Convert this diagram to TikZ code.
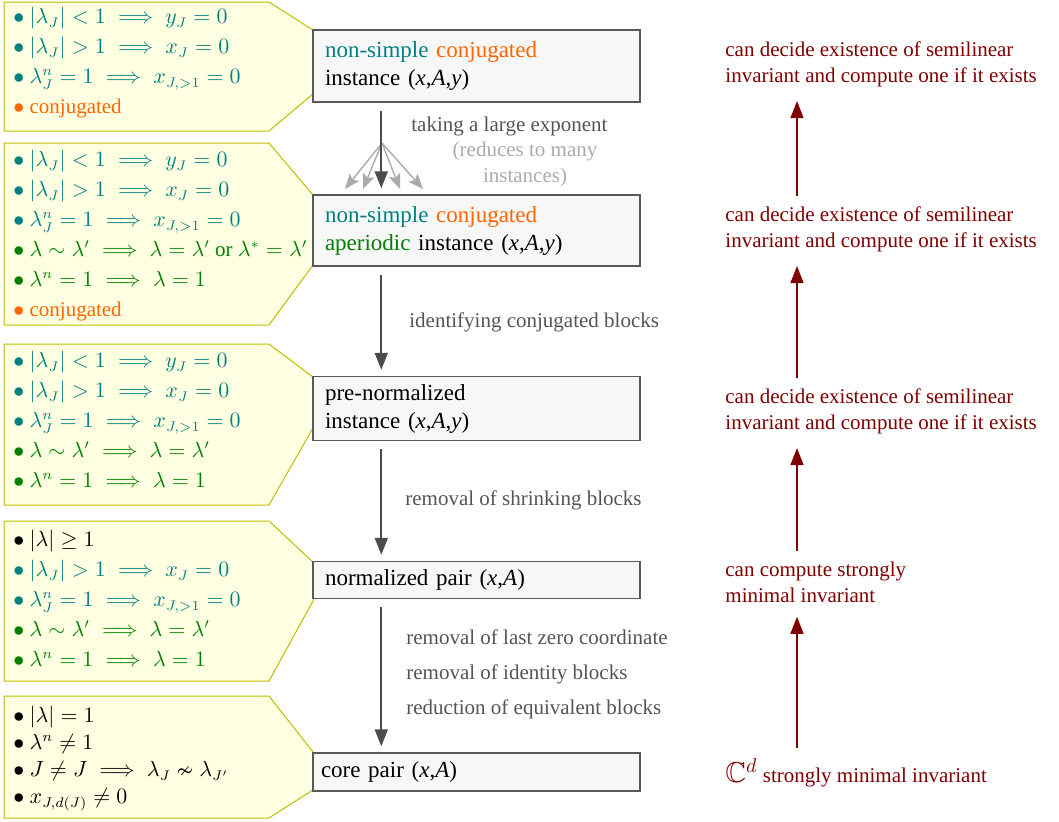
\documentclass[tikz,border=0pt]{standalone}
\usepackage{amssymb, amsmath}
\usepackage[no-math]{fontspec}
\setmainfont{Liberation Serif}
\usetikzlibrary{arrows.meta}
\definecolor{tealc}{RGB}{0, 128, 128}
\definecolor{orng}{RGB}{255, 102, 0}
\definecolor{grn}{RGB}{0, 128, 0}
\definecolor{maroon}{RGB}{128, 0, 0}
\definecolor{callfill}{RGB}{255, 255, 226}
\definecolor{calledge}{RGB}{190, 190, 0}
\definecolor{boxfill}{gray}{0.97}
\definecolor{boxedge}{gray}{0.35}
\definecolor{flowgray}{gray}{0.3}
\definecolor{fangray}{gray}{0.67}
\definecolor{labelgray}{gray}{0.33}

\newcommand{\cond}[2]{{\color{#1}$\bullet$\ #2}}
\newcommand{\inst}{(\textit{x},\textit{A},\textit{y})}
\newcommand{\pair}{(\textit{x},\textit{A})}

\tikzset{
  stage/.style={draw=boxedge, fill=boxfill, line width=0.7pt, minimum width=163.5pt,
                text width=151.5pt, inner xsep=6pt, align=left,
                font=\fontsize{11.5}{14}\selectfont},
  callout/.style={draw=calledge, fill=callfill, line width=0.5pt},
  conds/.style={anchor=north west, inner sep=0pt, align=left,
                font=\fontsize{10.5}{15}\selectfont},
  flow/.style={draw=flowgray, line width=0.9pt, -{Triangle[length=8.5pt, width=6.5pt]},
               shorten <=4pt, shorten >=3pt},
  spread/.style={draw=fangray, line width=0.7pt, -{Stealth[length=7.5pt, width=6pt, inset=1.5pt]}},
  steplabel/.style={anchor=west, inner sep=0pt, text=labelgray, align=left,
                    font=\fontsize{10.5}{13}\selectfont},
  claim/.style={anchor=west, inner sep=0pt, text=maroon, align=left,
                font=\fontsize{10.5}{13}\selectfont},
  lift/.style={draw=maroon, line width=0.7pt, -{Triangle[length=8.5pt, width=6.5pt]},
               shorten <=5pt, shorten >=7pt}
}

\begin{document}
\begin{tikzpicture}[x=0.5pt, y=-0.5pt]
  \useasboundingbox (0, 0) rectangle (1059, 821);

  % callouts with the conditions
  \draw [callout] (4, 2) -- (269, 2) -- (313, 30) -- (313, 94) -- (269, 131) -- (4, 131) -- cycle;
  \draw [callout] (4, 143) -- (269, 143) -- (313, 195) -- (313, 265) -- (269, 325) -- (4, 325) -- cycle;
  \draw [callout] (4, 344) -- (269, 344) -- (313, 377) -- (313, 428) -- (269, 505) -- (4, 505) -- cycle;
  \draw [callout] (4, 521) -- (269, 521) -- (313, 562) -- (313, 601) -- (269, 681) -- (4, 681) -- cycle;
  \draw [callout] (4, 696) -- (269, 696) -- (313, 752) -- (313, 790) -- (269, 818) -- (4, 818) -- cycle;

  \node [conds] (c1) at (13, 7) {
    \cond{tealc}{$|\lambda_J|<1 \implies y_J=0$}\\
    \cond{tealc}{$|\lambda_J|>1 \implies x_J=0$}\\
    \cond{tealc}{$\lambda_J^n=1 \implies x_{J,>1}=0$}\\
    \cond{orng}{conjugated}};
  \node [conds] (c2) at (13, 150) {
    \cond{tealc}{$|\lambda_J|<1 \implies y_J=0$}\\
    \cond{tealc}{$|\lambda_J|>1 \implies x_J=0$}\\
    \cond{tealc}{$\lambda_J^n=1 \implies x_{J,>1}=0$}\\
    \cond{grn}{$\lambda\sim\lambda' \implies \lambda=\lambda'$ or $\lambda^*=\lambda'$}\\
    \cond{grn}{$\lambda^n=1 \implies \lambda=1$}\\
    \cond{orng}{conjugated}};
  \node [conds] (c3) at (13, 351) {
    \cond{tealc}{$|\lambda_J|<1 \implies y_J=0$}\\
    \cond{tealc}{$|\lambda_J|>1 \implies x_J=0$}\\
    \cond{tealc}{$\lambda_J^n=1 \implies x_{J,>1}=0$}\\
    \cond{grn}{$\lambda\sim\lambda' \implies \lambda=\lambda'$}\\
    \cond{grn}{$\lambda^n=1 \implies \lambda=1$}};
  \node [conds] (c4) at (13, 530) {
    \cond{black}{$|\lambda|\geq 1$}\\
    \cond{tealc}{$|\lambda_J|>1 \implies x_J=0$}\\
    \cond{tealc}{$\lambda_J^n=1 \implies x_{J,>1}=0$}\\
    \cond{grn}{$\lambda\sim\lambda' \implies \lambda=\lambda'$}\\
    \cond{grn}{$\lambda^n=1 \implies \lambda=1$}};
  \node [conds, font=\fontsize{10.5}{13.5}\selectfont] (c5) at (13, 706) {
    \cond{black}{$|\lambda|=1$}\\
    \cond{black}{$\lambda^n\neq 1$}\\
    \cond{black}{$J\neq J \implies \lambda_J\nsim\lambda_{J'}$}\\
    \cond{black}{$x_{J,d(J)}\neq 0$}};

  % the chain of instances
  \node [stage, minimum height=36pt] (simple) at (476.5, 66)
    {{\color{tealc}non-simple} {\color{orng}conjugated}\\ instance \inst};
  \node [stage, minimum height=35.5pt] (aper) at (476.5, 230.5)
    {{\color{tealc}non-simple} {\color{orng}conjugated}\\ {\color{grn}aperiodic} instance \inst};
  \node [stage, minimum height=32pt] (prenorm) at (476.5, 408.5)
    {pre-normalized\\ instance \inst};
  \node [stage, minimum height=18.5pt] (norm) at (476.5, 580)
    {normalized pair \pair};
  \node [stage, minimum height=19pt, inner xsep=4pt, text width=155.5pt] (core) at (476.5, 772)
    {core pair \pair};

  \coordinate (fork) at (382, 143);
  \foreach \x [count=\k] in {345, 363, 400, 423} {
    \coordinate (fan\k) at (\x, 189);
    \draw [spread] (fork) -- (fan\k);
  }
  \draw [flow] ([xshift=34.5pt]simple.south west) -- ([xshift=34.5pt]aper.north west);
  \draw [flow] ([xshift=34.5pt]aper.south west) -- ([xshift=34.5pt]prenorm.north west);
  \draw [flow] ([xshift=34.5pt]prenorm.south west) -- ([xshift=34.5pt]norm.north west);
  \draw [flow] ([xshift=34.5pt]norm.south west) -- ([xshift=34.5pt]core.north west);

  \node [steplabel] (l1) at (411, 126) {taking a large exponent};
  \node [steplabel, anchor=center, align=center, text=fangray] (l1b) at (525, 164)
    {(reduces to many\\ instances)};
  \node [steplabel] (l2) at (409, 322) {identifying conjugated blocks};
  \node [steplabel] (l3) at (405, 500) {removal of shrinking blocks};
  \node [steplabel, font=\fontsize{10.5}{17.5}\selectfont] (l4) at (406, 674)
    {removal of last zero coordinate\\ removal of identity blocks\\ reduction of equivalent blocks};

  % what can be computed
  \node [claim] (r1) at (725, 64) {can decide existence of semilinear\\ invariant and compute one if it exists};
  \node [claim] (r2) at (725, 229) {can decide existence of semilinear\\ invariant and compute one if it exists};
  \node [claim] (r3) at (725, 411) {can decide existence of semilinear\\ invariant and compute one if it exists};
  \node [claim] (r4) at (725, 582) {can compute strongly\\ minimal invariant};
  \node [claim] (r5) at (725, 773) {{\Large $\mathbb{C}^d$} strongly minimal invariant};

  \draw [lift] ([xshift=36pt]r2.north west) -- ([xshift=36pt]r1.south west);
  \draw [lift] ([xshift=36pt]r3.north west) -- ([xshift=36pt]r2.south west);
  \draw [lift] ([xshift=36pt]r4.north west) -- ([xshift=36pt]r3.south west);
  \draw [lift] ([xshift=36pt]r5.north west) -- ([xshift=36pt]r4.south west);
\end{tikzpicture}
\end{document}
